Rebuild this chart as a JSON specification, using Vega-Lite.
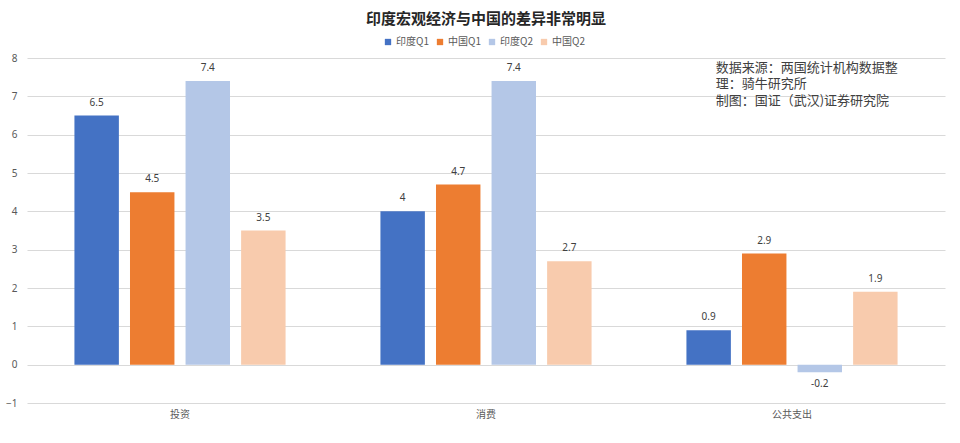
{
  "$schema": "https://vega.github.io/schema/vega-lite/v6.json",
  "autosize": "none",
  "width": 918,
  "height": 345,
  "padding": {"left": 27, "top": 58, "right": 15, "bottom": 40},
  "background": "white",
  "title": {
    "text": "印度宏观经济与中国的差异非常明显",
    "font": "Noto Sans CJK SC",
    "fontSize": 15,
    "fontWeight": "bold",
    "color": "#262626",
    "anchor": "middle",
    "offset": 10
  },
  "data": {
    "values": [
      {"cat": "投资", "series": "印度Q1", "value": 6.5},
      {"cat": "投资", "series": "中国Q1", "value": 4.5},
      {"cat": "投资", "series": "印度Q2", "value": 7.4},
      {"cat": "投资", "series": "中国Q2", "value": 3.5},
      {"cat": "消费", "series": "印度Q1", "value": 4},
      {"cat": "消费", "series": "中国Q1", "value": 4.7},
      {"cat": "消费", "series": "印度Q2", "value": 7.4},
      {"cat": "消费", "series": "中国Q2", "value": 2.7},
      {"cat": "公共支出", "series": "印度Q1", "value": 0.9},
      {"cat": "公共支出", "series": "中国Q1", "value": 2.9},
      {"cat": "公共支出", "series": "印度Q2", "value": -0.2},
      {"cat": "公共支出", "series": "中国Q2", "value": 1.9}
    ]
  },
  "encoding": {
    "x": {
      "field": "cat",
      "type": "nominal",
      "sort": ["投资", "消费", "公共支出"],
      "scale": {"paddingInner": 0.31, "paddingOuter": 0.155},
      "axis": {
        "title": null,
        "labelAngle": 0,
        "domain": false,
        "ticks": false,
        "labelPadding": 6,
        "labelFont": "Noto Sans CJK SC",
        "labelFontSize": 10,
        "labelColor": "#595959"
      }
    },
    "xOffset": {
      "field": "series",
      "type": "nominal",
      "sort": ["印度Q1", "中国Q1", "印度Q2", "中国Q2"],
      "scale": {"paddingInner": 0.2, "paddingOuter": 0}
    },
    "y": {
      "field": "value",
      "type": "quantitative",
      "scale": {"domain": [-1, 8], "nice": false},
      "axis": {
        "title": null,
        "values": [-1, 0, 1, 2, 3, 4, 5, 6, 7, 8],
        "domain": false,
        "ticks": false,
        "labelPadding": 10,
        "labelFont": "Noto Sans",
        "labelFontSize": 10,
        "labelColor": "#595959",
        "gridColor": "#D9D9D9",
        "gridWidth": 1
      }
    }
  },
  "layer": [
    {
      "mark": {"type": "bar"},
      "encoding": {
        "color": {
          "field": "series",
          "type": "nominal",
          "sort": ["印度Q1", "中国Q1", "印度Q2", "中国Q2"],
          "scale": {
            "domain": ["印度Q1", "中国Q1", "印度Q2", "中国Q2"],
            "range": ["#4472C4", "#ED7D31", "#B4C7E7", "#F8CBAD"]
          },
          "legend": {
            "orient": "none",
            "legendX": 356,
            "legendY": -21,
            "direction": "horizontal",
            "title": null,
            "symbolType": "square",
            "symbolSize": 40,
            "symbolStrokeWidth": 0,
            "labelFont": "Noto Sans CJK SC",
            "labelFontSize": 10,
            "labelOffset": 3,
            "labelColor": "#595959",
            "columnPadding": 6,
            "padding": 0
          }
        }
      }
    },
    {
      "transform": [{"filter": "datum.value >= 0"}],
      "mark": {"type": "text", "baseline": "bottom", "dy": -8, "font": "Noto Sans", "fontSize": 10, "color": "#404040"},
      "encoding": {"text": {"field": "value", "type": "nominal"}}
    },
    {
      "transform": [{"filter": "datum.value < 0"}],
      "mark": {"type": "text", "baseline": "top", "dy": 7, "font": "Noto Sans", "fontSize": 10, "color": "#404040"},
      "encoding": {"text": {"field": "value", "type": "nominal"}}
    },
    {
      "transform": [{"filter": "datum.cat === '公共支出' && datum.series === '印度Q1'"}],
      "mark": {
        "type": "text",
        "align": "left",
        "baseline": "middle",
        "dx": 7,
        "font": "Noto Sans CJK SC",
        "fontSize": 13,
        "fontWeight": "normal",
        "lineHeight": 16.5,
        "color": "#404040",
        "text": ["数据来源：两国统计机构数据整", "理：骑牛研究所", "制图：国证（武汉)证券研究院"]
      },
      "encoding": {
        "y": {"datum": 7.75}
      }
    }
  ],
  "config": {"view": {"stroke": null}}
}
